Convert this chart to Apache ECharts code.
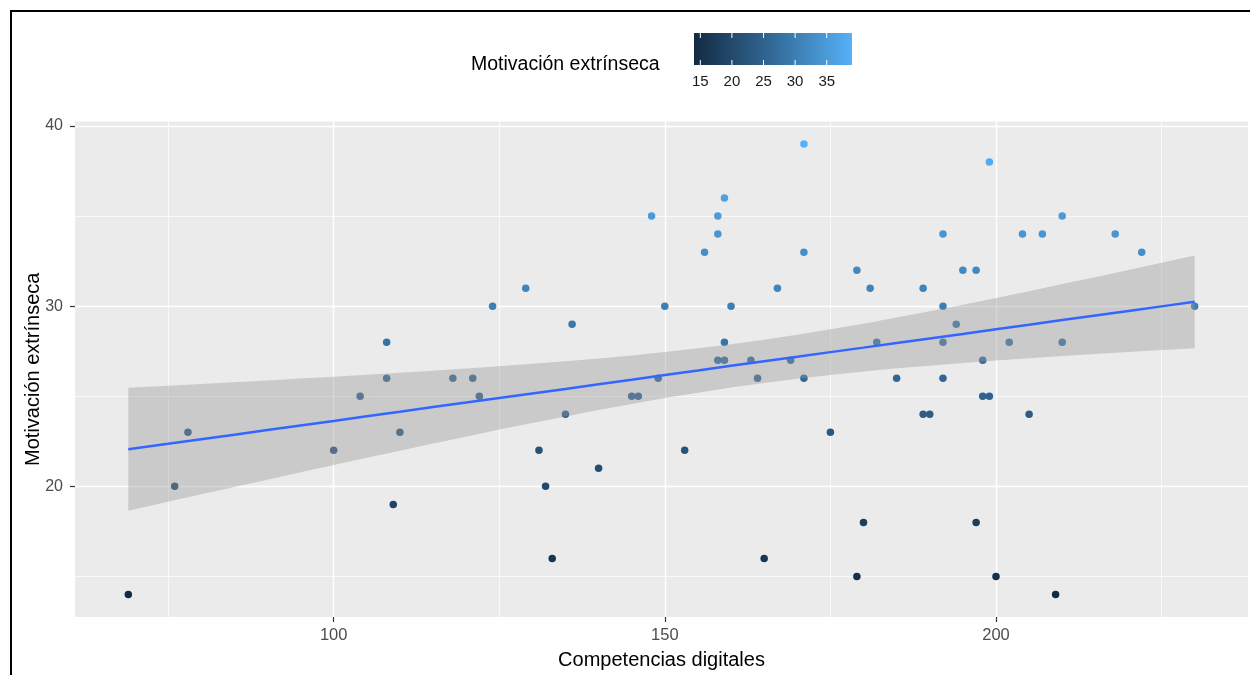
<!DOCTYPE html>
<html>
<head>
<meta charset="utf-8">
<title>Motivación extrínseca vs Competencias digitales</title>
<script src="https://cdn.jsdelivr.net/npm/echarts@6/dist/echarts.min.js"></script>
<style>
  html, body { margin: 0; padding: 0; background: #ffffff; }
  #chart { width: 1250px; height: 675px; }
</style>
</head>
<body>
<div id="chart"></div>
<script>
// Observations: digital competence score and extrinsic motivation score
const competencias = [69, 76, 78, 100, 104, 108, 108, 109, 110, 118, 121, 122, 124, 129, 131, 132, 133, 135, 136, 140,
  145, 146, 148, 149, 150, 153, 156, 158, 158, 158, 159, 159, 159, 160, 163, 164, 165, 167, 169, 171,
  171, 171, 175, 179, 179, 180, 181, 182, 185, 189, 189, 190, 192, 192, 192, 192, 194, 195, 197, 197,
  198, 198, 199, 199, 200, 202, 204, 205, 207, 209, 210, 210, 218, 222, 230];
const motivacion = [14, 20, 23, 22, 25, 26, 28, 19, 23, 26, 26, 25, 30, 31, 22, 20, 16, 24, 29, 21,
  25, 25, 35, 26, 30, 22, 33, 35, 34, 27, 36, 28, 27, 30, 27, 26, 16, 31, 27, 39,
  33, 26, 23, 32, 15, 18, 31, 28, 26, 31, 24, 24, 34, 30, 28, 26, 29, 32, 32, 18,
  27, 25, 25, 38, 15, 28, 34, 24, 34, 14, 35, 28, 34, 33, 30];

// Linear trend and its confidence band, sampled along x
const trendX    = [69, 75, 80, 85, 90, 95, 100, 105, 110, 115, 120, 125, 130, 135, 140, 145, 150,
                   155, 160, 165, 170, 175, 180, 185, 190, 195, 200, 205, 210, 215, 220, 225, 230];
const trendY    = [22.06, 22.36, 22.62, 22.87, 23.13, 23.38, 23.63, 23.89, 24.14, 24.40, 24.65, 24.91, 25.16, 25.41, 25.67, 25.92, 26.18,
                   26.43, 26.69, 26.94, 27.19, 27.45, 27.70, 27.96, 28.21, 28.46, 28.72, 28.97, 29.23, 29.48, 29.73, 29.99, 30.24];
const trendLow  = [18.65, 19.15, 19.56, 19.97, 20.37, 20.78, 21.19, 21.59, 21.98, 22.38, 22.76, 23.15, 23.52, 23.88, 24.24, 24.57, 24.90,
                   25.20, 25.49, 25.74, 25.97, 26.18, 26.37, 26.55, 26.70, 26.84, 26.98, 27.11, 27.24, 27.35, 27.46, 27.57, 27.67];
const trendHigh = [25.47, 25.58, 25.68, 25.78, 25.88, 25.98, 26.09, 26.19, 26.30, 26.42, 26.54, 26.67, 26.80, 26.94, 27.10, 27.27, 27.46,
                   27.66, 27.89, 28.14, 28.41, 28.72, 29.03, 29.37, 29.72, 30.08, 30.46, 30.83, 31.23, 31.61, 32.01, 32.41, 32.81];

// Axis ticks and grid lines
const xTicks = [100, 150, 200];
const yTicks = [20, 30, 40];
const xMajor = [100, 150, 200];
const xMinor = [75, 125, 175, 225];
const yMajor = [20, 30, 40];
const yMinor = [15, 25, 35];

// Colour bar
const colorMin = 14, colorMax = 39;
const colorTicks = [15, 20, 25, 30, 35];
const colorStops = ['#132B43', '#336A98', '#56B1F7'];

const FONT = '"Liberation Sans", Arial, sans-serif';
const chart = echarts.init(document.getElementById('chart'), null, { renderer: 'canvas' });

const points = competencias.map((x, i) => [x, motivacion[i]]);
const trendLine = trendX.map((x, i) => [x, trendY[i]]);

const gridMark = [];
xMajor.forEach(v => gridMark.push({ xAxis: v, lineStyle: { width: 1.4 } }));
xMinor.forEach(v => gridMark.push({ xAxis: v, lineStyle: { width: 0.7 } }));
yMajor.forEach(v => gridMark.push({ yAxis: v, lineStyle: { width: 1.4 } }));
yMinor.forEach(v => gridMark.push({ yAxis: v, lineStyle: { width: 0.7 } }));

// Colour bar geometry
const barX = 694, barY = 33, barW = 158, barH = 32;
const barPos = v => barX + (v - colorMin) / (colorMax - colorMin) * barW;
const legendGraphics = [
  {
    type: 'rect', shape: { x: barX, y: barY, width: barW, height: barH },
    style: {
      fill: new echarts.graphic.LinearGradient(0, 0, 1, 0, colorStops.map((c, i) => ({ offset: i / (colorStops.length - 1), color: c })))
    }
  },
  {
    type: 'text', x: 471, y: 65,
    style: { text: 'Motivación extrínseca', font: '19.5px ' + FONT, fill: '#000000', verticalAlign: 'middle' }
  }
];
colorTicks.forEach(v => {
  const px = barPos(v);
  legendGraphics.push({ type: 'line', shape: { x1: px, y1: barY, x2: px, y2: barY + 5 }, style: { stroke: '#ffffff', lineWidth: 1 } });
  legendGraphics.push({ type: 'line', shape: { x1: px, y1: barY + barH - 5, x2: px, y2: barY + barH }, style: { stroke: '#ffffff', lineWidth: 1 } });
  legendGraphics.push({
    type: 'text', x: px, y: 82,
    style: { text: String(v), font: '15px ' + FONT, fill: '#1a1a1a', align: 'center', verticalAlign: 'middle' }
  });
});
// Frame around the figure
legendGraphics.push({
  type: 'rect', shape: { x: 11, y: 11, width: 1250, height: 700 },
  style: { fill: 'none', stroke: '#000000', lineWidth: 2 }, z: 100
});

const option = {
  animation: false,
  backgroundColor: '#ffffff',
  textStyle: { fontFamily: FONT },
  grid: {
    left: 75, right: 2, top: 121.5, bottom: 57.5,
    show: true, backgroundColor: '#EBEBEB', borderWidth: 0
  },
  xAxis: {
    type: 'value', min: 60.95, max: 238.05,
    name: 'Competencias digitales', nameLocation: 'middle', nameGap: 33,
    nameTextStyle: { fontSize: 20, color: '#000000', fontFamily: FONT },
    axisLine: { show: false },
    axisTick: { show: true, length: 5, lineStyle: { color: '#333333', width: 1.2 }, customValues: xTicks },
    axisLabel: { color: '#4D4D4D', fontSize: 16.5, margin: 10, fontFamily: FONT, customValues: xTicks },
    splitLine: { show: false }
  },
  yAxis: {
    type: 'value', min: 12.75, max: 40.25,
    name: 'Motivación extrínseca', nameLocation: 'middle', nameGap: 32, nameRotate: 90,
    nameMoveOverlap: false,
    nameTextStyle: { fontSize: 20, color: '#000000', fontFamily: FONT },
    axisLine: { show: false },
    axisTick: { show: true, length: 5, lineStyle: { color: '#333333', width: 1.2 }, customValues: yTicks },
    axisLabel: { color: '#4D4D4D', fontSize: 16, margin: 12, fontFamily: FONT, customValues: yTicks },
    splitLine: { show: false }
  },
  visualMap: {
    show: false, type: 'continuous', seriesIndex: 1, dimension: 1,
    min: colorMin, max: colorMax, inRange: { color: colorStops }
  },
  graphic: legendGraphics,
  series: [
    {
      // panel grid lines
      type: 'scatter', data: [], z: 1, silent: true,
      markLine: {
        silent: true, symbol: ['none', 'none'], label: { show: false },
        lineStyle: { color: '#ffffff', type: 'solid' },
        data: gridMark, animation: false
      }
    },
    {
      type: 'scatter', data: points, symbol: 'circle', symbolSize: 7.5, z: 10,
      itemStyle: { opacity: 1 }
    },
    {
      // confidence band
      type: 'custom', z: 11, silent: true,
      data: [[trendX[0], trendY[0]]],
      renderItem: function (params, api) {
        const upper = trendX.map((x, i) => api.coord([x, trendHigh[i]]));
        const lower = trendX.map((x, i) => api.coord([x, trendLow[i]])).reverse();
        return {
          type: 'polygon',
          shape: { points: upper.concat(lower) },
          style: { fill: 'rgba(153,153,153,0.4)', stroke: 'none' }
        };
      }
    },
    {
      type: 'line', data: trendLine, z: 12, showSymbol: false, silent: true,
      lineStyle: { color: '#3366FF', width: 2.5 }
    }
  ]
};
chart.setOption(option);
</script>
</body>
</html>
